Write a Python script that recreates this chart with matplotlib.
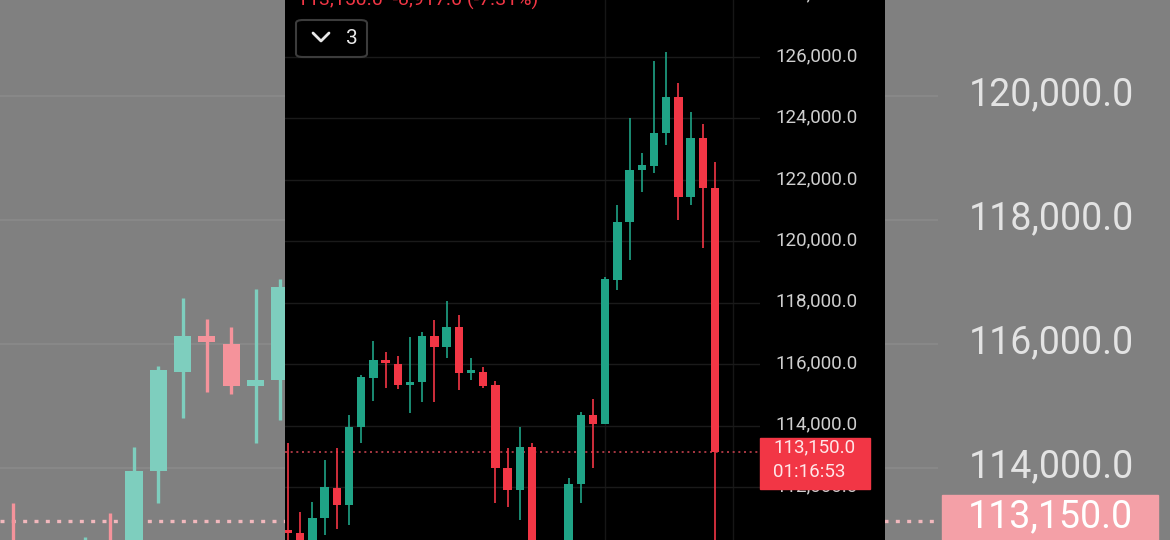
import numpy as np
import matplotlib
matplotlib.use("Agg")
import matplotlib.pyplot as plt
from matplotlib.patches import Rectangle, FancyBboxPatch
from matplotlib.lines import Line2D
from matplotlib.ticker import MultipleLocator, FuncFormatter
from matplotlib.transforms import blended_transform_factory, ScaledTranslation

plt.rcParams['font.family'] = ['Roboto', 'DejaVu Sans']

# candles (indices 21, 22 sit below the visible range)
opens = [110600, 110500, 110000, 110990, 111970, 111410, 113950, 115550, 116130, 116000,
         115320, 115420, 116920, 116560, 117210, 115710, 115750, 115320, 112620, 111900,
         113300, 109900, 109300, 109700, 112100, 114340, 114050, 118740, 120630, 122320,
         122450, 123530, 124700, 121440, 123360, 121740]
highs = [113430, 111190, 111510, 112880, 113270, 114340, 115650, 116750, 116400, 116270,
         116880, 117050, 117440, 118060, 117600, 116200, 115910, 115450, 113270, 113950,
         113430, 110150, 110100, 112290, 114440, 114870, 118840, 121180, 124020, 122880,
         125870, 126160, 125150, 124210, 123820, 122580]
lows = [109900, 109700, 109800, 110440, 110630, 110760, 113430, 114800, 115220, 115190,
        114410, 114770, 114770, 116200, 115160, 115480, 115220, 111480, 111350, 110930,
        109500, 109000, 108800, 109500, 111480, 112620, 114050, 118410, 119390, 121600,
        122220, 123140, 120690, 121180, 119780, 109800]
closes = [110500, 110000, 110990, 112000, 111410, 113950, 115580, 116130, 116040, 115320,
          115420, 116920, 116560, 117210, 115710, 115780, 115290, 112620, 111900, 113300,
          109900, 109300, 109700, 112100, 114340, 114050, 118770, 120630, 122320, 122490,
          123530, 124700, 121440, 123360, 121740, 113150]
last_price = 113150.0
change = -8917.0
change_pct = -7.31
countdown = "01:16:53"
interval_count = "3"

W, H = 1170, 540


def box(l, t, r, b):
    return [l / W, 1 - b / H, (r - l) / W, (b - t) / H]


def draw_candles(ax, up, down, body_w, wick_lw, min_body):
    o, h, l, c = map(np.array, (opens, highs, lows, closes))
    x = np.arange(len(o))
    col = np.where(c >= o, up, down)
    ax.vlines(x, l, h, colors=col, lw=wick_lw, zorder=3)
    ax.bar(x, np.maximum(np.abs(c - o), min_body), bottom=np.minimum(o, c),
           width=body_w, color=col, lw=0, zorder=4)


def price_axis(ax, size, color, pad, grid_color, grid_lw):
    ax.yaxis.tick_right()
    ax.yaxis.set_major_locator(MultipleLocator(2000))
    ax.yaxis.set_major_formatter(FuncFormatter(lambda v, _: f"{v:,.1f}"))
    ax.tick_params(axis='y', length=0, labelsize=size, labelcolor=color, pad=pad)
    ax.tick_params(axis='x', bottom=False, labelbottom=False)
    for s in ax.spines.values():
        s.set_visible(False)
    ax.grid(axis='y', color=grid_color, lw=grid_lw, zorder=0)
    ax.set_axisbelow(True)


def lift_labels(ax, px):
    # the app draws its price labels a little above the grid line
    off = ScaledTranslation(0, px / 100, fig.dpi_scale_trans)
    for t in ax.yaxis.get_major_ticks():
        t.label2.set_transform(t.label2.get_transform() + off)


fig = plt.figure(figsize=(11.7, 5.4), dpi=100)
fig.patch.set_facecolor('#808080')

# blurred, zoomed copy of the chart behind the phone screen
bg_x0, bg_dx, bg_ppp, bg_ref = 12.5, 24.3, 0.062, 220
bg = fig.add_axes(box(0, 0, 938, 540), zorder=0)
bg.set_facecolor('#808080')
draw_candles(bg, '#7ecebe', '#f5939b', 0.7, 2.4, 80)
bg.set_xlim((0 - bg_x0) / bg_dx, (938 - bg_x0) / bg_dx)
bg.set_ylim(118000 - (540 - bg_ref) / bg_ppp, 118000 + bg_ref / bg_ppp)
price_axis(bg, 27, '#e3e3e3', 22, '#888888', 1.5)
bg.axhline(last_price, color='#f2b8bd', lw=2.4, ls=(0, (1.2, 2.2)), zorder=2)
tb = blended_transform_factory(bg.transAxes, bg.transData)
bg.add_patch(Rectangle((1 + 4 / 938, last_price - 60 / bg_ppp), 216 / 938, 86 / bg_ppp,
                       transform=tb, color='#f4a0a7', clip_on=False, zorder=10))
bg.text(1 + 30 / 938, last_price + 4 / bg_ppp, f"{last_price:,.1f}", transform=tb,
        fontsize=27, color='#ffffff', va='center', ha='left', zorder=11)

# phone screen
panel = fig.add_axes(box(285, 0, 885, 540), zorder=1)
panel.set_facecolor('black')
panel.set_xticks([])
panel.set_yticks([])
for s in panel.spines.values():
    s.set_visible(False)

fg_x0, fg_dx, fg_ppp = 288, 12.2, 0.030714
fg = fig.add_axes(box(285, -30, 760, 540), zorder=2)
fg.set_facecolor('black')
draw_candles(fg, '#1fa386', '#f23645', 0.68, 1.2, 100)
fg.set_xlim((285 - fg_x0) / fg_dx, (760 - fg_x0) / fg_dx)
fg.set_ylim(112000 - (540 - 487) / fg_ppp, 112000 + (487 + 30) / fg_ppp)
price_axis(fg, 13.5, '#cfcfcf', 11, '#1a1a1a', 1)
for xv in (26, 36.5):
    fg.axvline(xv, color='#161616', lw=1, zorder=0)
fg.axhline(last_price, color='#c4404c', lw=1.2, ls=(0, (1.2, 2.2)), zorder=2)
tf = blended_transform_factory(fg.transAxes, fg.transData)
fg.add_patch(Rectangle((1.0, last_price - 37 / fg_ppp), 110 / 475, 51 / fg_ppp,
                       transform=tf, color='#f23645', clip_on=False, zorder=10))
fg.text(1 + 13 / 475, last_price + 4 / fg_ppp, f"{last_price:,.1f}", transform=tf,
        fontsize=13.5, color='#ffe6e8', va='center', ha='left', zorder=11)
fg.text(1 + 13 / 475, last_price - 20 / fg_ppp, countdown, transform=tf,
        fontsize=13.5, color='#ffe6e8', va='center', ha='left', zorder=11)

# header text, cut off by the top edge as in the screenshot
fig.text(297 / W, 1 - 6 / H, f"{last_price:,.1f}  {change:,.1f} ({change_pct:.2f}%)",
         color='#f23645', fontsize=14, va='baseline', ha='left', zorder=5)

# interval button
fig.patches.append(FancyBboxPatch((296 / W, 1 - 57 / H), 71 / W, 37 / H,
                                  boxstyle='round,pad=0,rounding_size=0.006',
                                  transform=fig.transFigure, fc='black', ec='#3c3c3c',
                                  lw=1.5, zorder=5))
fig.lines.append(Line2D([313 / W, 321 / W, 329 / W], [1 - 33 / H, 1 - 41 / H, 1 - 33 / H],
                        transform=fig.transFigure, color='#e8e8e8', lw=2, zorder=6,
                        solid_capstyle='round', solid_joinstyle='round'))
fig.text(352 / W, 1 - 38 / H, interval_count, color='#e8e8e8', fontsize=15,
         va='center', ha='center', zorder=6)

fig.canvas.draw()
lift_labels(fg, 3)
lift_labels(bg, 5)

fig.savefig("out.png", dpi=100, facecolor=fig.get_facecolor())
